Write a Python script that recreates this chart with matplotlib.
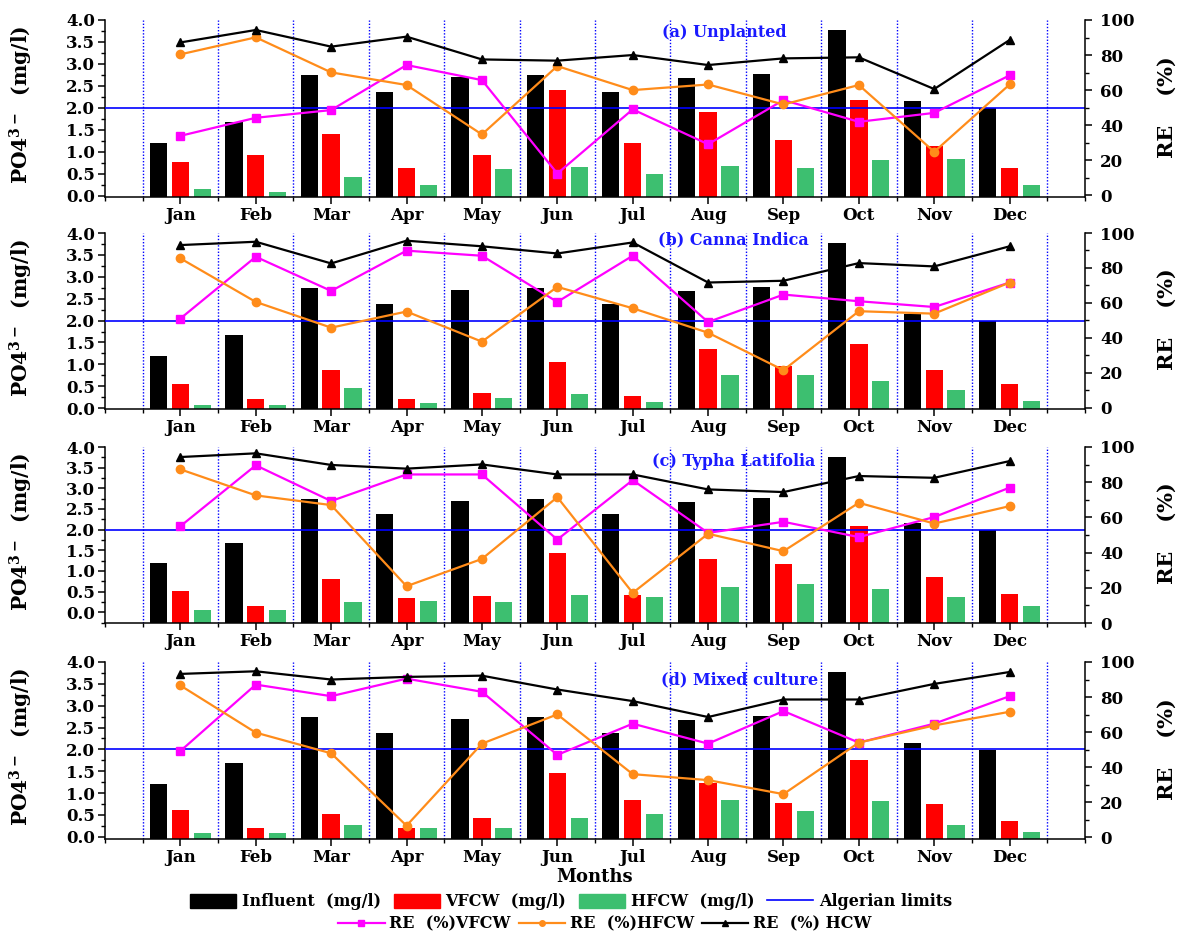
import numpy as np
import matplotlib.pyplot as plt
from matplotlib.patches import Patch
from matplotlib.lines import Line2D
from matplotlib.ticker import MultipleLocator, FixedLocator

plt.rcParams['font.family'] = 'DejaVu Serif'
plt.rcParams['font.weight'] = 'bold'
plt.rcParams['mathtext.fontset'] = 'dejavuserif'

months = ['Jan', 'Feb', 'Mar', 'Apr', 'May', 'Jun',
          'Jul', 'Aug', 'Sep', 'Oct', 'Nov', 'Dec']

# influent PO4 (mg/l), same feed for every unit
influent = [1.20, 1.68, 2.74, 2.37, 2.70, 2.74, 2.37, 2.67, 2.77, 3.77, 2.15, 1.99]
limit = 2.0  # Algerian discharge limit

# (a) Unplanted
vfcw_a = [0.77, 0.93, 1.40, 0.62, 0.93, 2.40, 1.21, 1.90, 1.27, 2.18, 1.14, 0.62]
hfcw_a = [0.15, 0.09, 0.42, 0.24, 0.61, 0.65, 0.50, 0.68, 0.62, 0.81, 0.84, 0.25]
re_vfcw_a = [33.9, 44.2, 48.6, 74.3, 65.7, 12.4, 49.0, 29.1, 54.3, 41.9, 47.0, 68.4]
re_hfcw_a = [80.4, 90.1, 70.1, 62.9, 34.7, 73.7, 60.0, 63.2, 51.8, 62.9, 24.8, 63.2]
re_hcw_a = [87.2, 94.3, 84.8, 90.5, 77.5, 76.8, 80.0, 74.3, 78.1, 78.7, 60.6, 88.6]

# (b) Canna Indica
vfcw_b = [0.56, 0.21, 0.87, 0.21, 0.34, 1.06, 0.28, 1.34, 0.96, 1.47, 0.87, 0.54]
hfcw_b = [0.08, 0.07, 0.47, 0.11, 0.22, 0.32, 0.13, 0.76, 0.76, 0.63, 0.41, 0.16]
re_vfcw_b = [51.1, 86.4, 66.9, 89.9, 87.0, 60.6, 87.0, 49.1, 64.8, 61.0, 57.7, 71.7]
re_hfcw_b = [85.5, 60.6, 45.9, 55.1, 37.9, 69.2, 57.0, 43.0, 21.6, 55.3, 53.9, 71.7]
re_hcw_b = [93.1, 95.0, 82.6, 95.6, 92.4, 88.3, 94.6, 71.7, 72.7, 82.8, 80.9, 92.4]

# (c) Typha Latifolia
vfcw_c = [0.51, 0.15, 0.81, 0.35, 0.39, 1.43, 0.41, 1.28, 1.17, 2.08, 0.85, 0.45]
hfcw_c = [0.05, 0.05, 0.24, 0.28, 0.24, 0.41, 0.36, 0.62, 0.68, 0.57, 0.36, 0.15]
re_vfcw_c = [55.0, 89.6, 69.3, 84.4, 84.4, 47.4, 81.2, 51.2, 57.5, 48.8, 60.2, 76.9]
re_hfcw_c = [87.3, 72.5, 67.0, 20.9, 36.4, 71.5, 17.1, 50.7, 40.8, 68.3, 56.5, 66.4]
re_hcw_c = [94.3, 96.4, 89.8, 87.7, 90.1, 84.4, 84.4, 75.9, 74.4, 83.5, 82.5, 92.0]

# (d) Mixed culture
vfcw_d = [0.61, 0.21, 0.53, 0.21, 0.43, 1.46, 0.84, 1.24, 0.78, 1.75, 0.75, 0.37]
hfcw_d = [0.09, 0.09, 0.28, 0.21, 0.21, 0.43, 0.53, 0.84, 0.59, 0.81, 0.28, 0.12]
re_vfcw_d = [49.2, 87.1, 80.5, 90.5, 83.0, 47.0, 64.8, 53.4, 72.0, 54.0, 64.8, 80.5]
re_hfcw_d = [86.6, 59.7, 47.9, 6.6, 53.4, 70.1, 36.0, 32.6, 24.6, 54.0, 63.8, 71.6]
re_hcw_d = [93.2, 94.7, 90.0, 91.5, 92.2, 84.3, 77.7, 68.6, 78.6, 78.6, 87.5, 94.3]

panels = [
    ('(a) Unplanted', vfcw_a, hfcw_a, re_vfcw_a, re_hfcw_a, re_hcw_a),
    ('(b) Canna Indica', vfcw_b, hfcw_b, re_vfcw_b, re_hfcw_b, re_hcw_b),
    ('(c) Typha Latifolia', vfcw_c, hfcw_c, re_vfcw_c, re_hfcw_c, re_hcw_c),
    ('(d) Mixed culture', vfcw_d, hfcw_d, re_vfcw_d, re_hfcw_d, re_hcw_d),
]

W, H = 1177, 935
tops = [20, 233, 447, 662]
bottoms = [197, 409, 623, 839]
left_lims = [(-0.03, 4.0), (-0.02, 4.0), (-0.26, 4.0), (-0.05, 4.0)]
right_lims = [(-1, 100), (-0.6, 100), (0, 100), (-1, 100)]
title_pos = [(8.22, 3.72), (8.34, 3.84), (8.34, 3.64), (8.42, 3.58)]

c_inf = 'black'
c_vf = '#ff0000'
c_hf = '#3dbf70'
c_mag = '#ff00ff'
c_org = '#ff8c1a'
c_lim = '#0000ff'

x = np.arange(1, 13)
bw = 0.23
off = 0.29

fig = plt.figure(figsize=(W / 100, H / 100), dpi=100)

for i, (title, vf, hf, rv, rh, rc) in enumerate(panels):
    rect = [105 / W, 1 - bottoms[i] / H, 980 / W, (bottoms[i] - tops[i]) / H]
    ax = fig.add_axes(rect)
    lo = left_lims[i][0]

    # bars start at the bottom of the axis, not at zero
    ax.bar(x - off, np.array(influent) - lo, bw, bottom=lo, color=c_inf, zorder=2)
    ax.bar(x, np.array(vf) - lo, bw, bottom=lo, color=c_vf, zorder=2)
    ax.bar(x + off, np.array(hf) - lo, bw, bottom=lo, color=c_hf, zorder=2)

    for xv in np.arange(0.5, 13, 1.0):
        ax.axvline(xv, color=c_lim, lw=1.0, ls=(0, (1, 1.3)), zorder=1)
    ax.axhline(limit, color=c_lim, lw=1.2, zorder=3)

    ax.set_xlim(0, 13)
    ax.set_ylim(*left_lims[i])
    ax.xaxis.set_major_locator(FixedLocator(x))
    ax.xaxis.set_minor_locator(FixedLocator(np.arange(0, 13.1, 0.5)))
    ax.set_xticklabels(months)
    ax.yaxis.set_minor_locator(MultipleLocator(0.25))
    ax.set_yticks(np.arange(0, 4.01, 0.5))
    ax.set_yticklabels([f'{v:.1f}' for v in np.arange(0, 4.01, 0.5)])
    ax.tick_params(which='major', direction='out', length=5, width=1.1,
                   labelsize=12, pad=2)
    ax.tick_params(which='minor', direction='out', length=3, width=1.0)
    for s in ['top', 'right']:
        ax.spines[s].set_visible(False)
    for s in ['left', 'bottom']:
        ax.spines[s].set_linewidth(1.1)

    ax.set_ylabel(r'PO4$^{\mathbf{3-}}$  (mg/l)', fontsize=14.5, fontweight='bold')
    ax.yaxis.set_label_coords(-0.071, 0.52)

    ax.text(title_pos[i][0], title_pos[i][1], title, color='#1a1aff',
            fontsize=11.5, fontweight='bold', ha='center', va='center', zorder=5)

    ax2 = ax.twinx()
    ax2.plot(x, rv, color=c_mag, lw=1.6, marker='s', ms=5.5, zorder=4)
    ax2.plot(x, rh, color=c_org, lw=1.6, marker='o', ms=6, zorder=4)
    ax2.plot(x, rc, color='black', lw=1.6, marker='^', ms=6, zorder=4)
    ax2.set_ylim(*right_lims[i])
    ax2.set_yticks(np.arange(0, 101, 20))
    ax2.yaxis.set_minor_locator(MultipleLocator(10))
    ax2.tick_params(which='major', direction='out', length=5, width=1.1,
                    labelsize=12, pad=6)
    ax2.tick_params(which='minor', direction='out', length=3, width=1.0)
    for s in ['top', 'left', 'bottom']:
        ax2.spines[s].set_visible(False)
    ax2.spines['right'].set_linewidth(1.1)
    ax2.set_ylabel('RE    (%)', fontsize=15, fontweight='bold')
    ax2.yaxis.set_label_coords(1.073, 0.51)

    if i == 3:
        ax.set_xlabel('Months', fontsize=13, fontweight='bold', labelpad=2)

bar_handles = [
    Patch(facecolor=c_inf, edgecolor=c_inf, label='Influent  (mg/l)'),
    Patch(facecolor=c_vf, edgecolor=c_vf, label='VFCW  (mg/l)'),
    Patch(facecolor=c_hf, edgecolor=c_hf, label='HFCW  (mg/l)'),
    Line2D([], [], color=c_lim, lw=1.2, label='Algerian limits'),
]
line_handles = [
    Line2D([], [], color=c_mag, lw=1.6, marker='s', ms=4, label='RE  (%)VFCW'),
    Line2D([], [], color=c_org, lw=1.6, marker='o', ms=4, label='RE  (%)HFCW'),
    Line2D([], [], color='black', lw=1.6, marker='^', ms=4, label='RE  (%) HCW'),
]

fig.legend(handles=bar_handles, loc='center', ncol=4, frameon=False,
           bbox_to_anchor=(571 / W, 1 - 902 / H), fontsize=11.5,
           handlelength=2.9, handleheight=1.0, handletextpad=0.35,
           columnspacing=0.8, borderpad=0, borderaxespad=0)
fig.legend(handles=line_handles, loc='center', ncol=3, frameon=False,
           bbox_to_anchor=(605 / W, 1 - 924 / H), fontsize=11.5,
           handlelength=2.9, handletextpad=0.3, columnspacing=0.5,
           borderpad=0, borderaxespad=0)

fig.savefig('out.png', dpi=100)
